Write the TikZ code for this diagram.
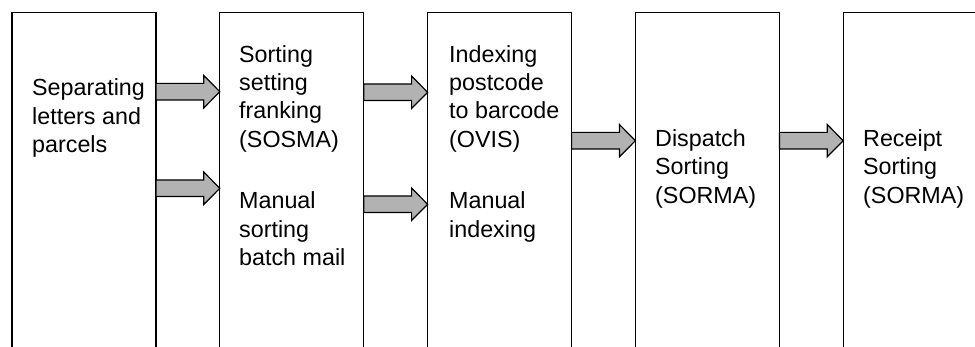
\documentclass[tikz,border=0pt]{standalone}
\usepackage{fontspec}
\setmainfont{Liberation Sans}
\usetikzlibrary{calc}
\definecolor{arrowgray}{RGB}{178,178,178}
\newcommand\flowarrow[2]{%
  \draw[blk] ($(#1)+(0,-8.3)$) -- ($(#2)+(-16,-8.3)$) -- ($(#2)+(-16,-16.2)$) -- (#2)
    -- ($(#2)+(-16,16.2)$) -- ($(#2)+(-16,8.3)$) -- ($(#1)+(0,8.3)$) -- cycle;}
\begin{document}
\begin{tikzpicture}[x=1pt,y=-1pt,
  stage/.style={draw=black,line width=1.3pt,rectangle,minimum width=144pt,minimum height=420pt,anchor=north west,inner sep=0pt,outer sep=0pt},
  lbl/.style={anchor=base west,align=left,inner sep=0pt,font=\fontsize{23.3}{28.3}\selectfont},
  blk/.style={draw=black,line width=1.2pt,fill=arrowgray,line join=miter}]
\useasboundingbox (0,0) rectangle (975,347);
\begin{scope}
\clip (0,0) rectangle (975,347);
\node[stage] (b1) at (12,12.7) {};
\node[stage] (b2) at (219.8,12.7) {};
\node[stage] (b3) at (427.6,12.7) {};
\node[stage] (b4) at (635.4,12.7) {};
\node[stage] (b5) at (843.2,12.7) {};
\coordinate (a1s) at (b1.east |- 0,91.7);
\coordinate (a1e) at (b2.west |- 0,91.7);
\coordinate (a2s) at (b1.east |- 0,188.3);
\coordinate (a2e) at (b2.west |- 0,188.3);
\coordinate (a3s) at (b2.east |- 0,92.3);
\coordinate (a3e) at (b3.west |- 0,92.3);
\coordinate (a4s) at (b2.east |- 0,204.3);
\coordinate (a4e) at (b3.west |- 0,204.3);
\coordinate (a5s) at (b3.east |- 0,140.7);
\coordinate (a5e) at (b4.west |- 0,140.7);
\coordinate (a6s) at (b4.east |- 0,140.7);
\coordinate (a6e) at (b5.west |- 0,140.7);
\flowarrow{a1s}{a1e}
\flowarrow{a2s}{a2e}
\flowarrow{a3s}{a3e}
\flowarrow{a4s}{a4e}
\flowarrow{a5s}{a5e}
\flowarrow{a6s}{a6e}
\end{scope}
\node[lbl] (t1) at (32,152.6) {Separating\\letters and\\parcels};
\node[lbl] (t2a) at (239,147.3) {Sorting\\setting\\franking\\(SOSMA)};
\node[lbl] (t2b) at (239,265.6) {Manual\\sorting\\batch mail};
\node[lbl] (t3a) at (449,147.3) {Indexing\\postcode\\to barcode\\(OVIS)};
\node[lbl] (t3b) at (449,237.3) {Manual\\indexing};
\node[lbl] (t4) at (655,203.3) {Dispatch\\Sorting\\(SORMA)};
\node[lbl] (t5) at (863,203.3) {Receipt\\Sorting\\(SORMA)};
\end{tikzpicture}
\end{document}
